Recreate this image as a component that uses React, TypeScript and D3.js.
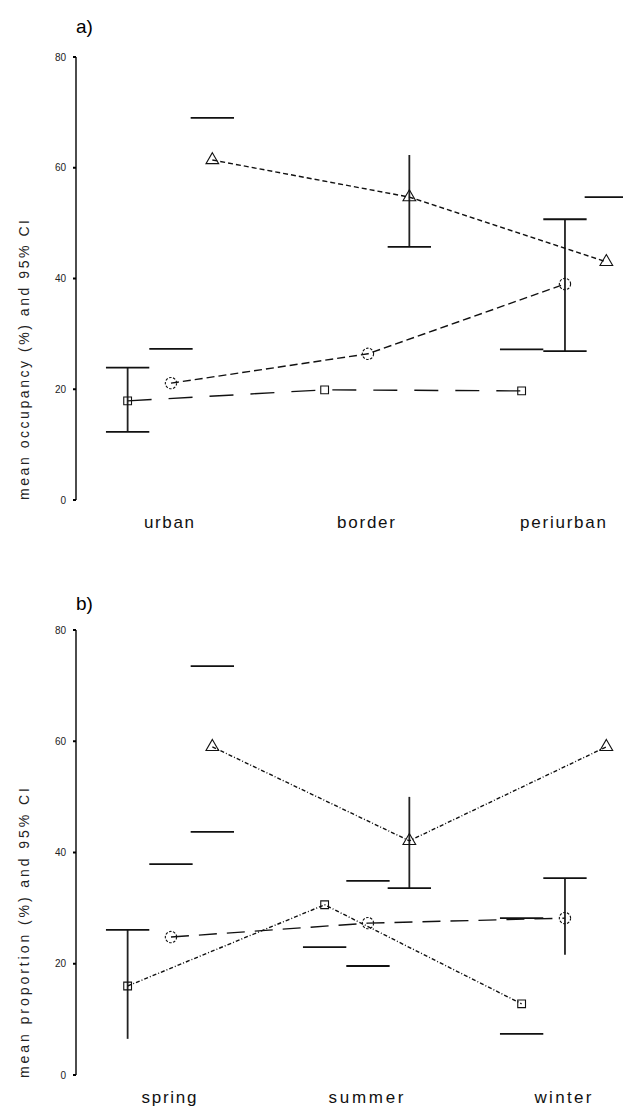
import { line, scaleLinear, symbol, symbolCircle, symbolSquare, symbolTriangle } from 'd3';

// categories and ticks
const OCCUPANCY_CATEGORIES = ['urban', 'border', 'periurban'];
const SEASON_CATEGORIES = ['spring', 'summer', 'winter'];
const Y_TICKS = [0, 20, 40, 60, 80];

// each series sits a little left / right of the category centre
const SERIES_OFFSETS = [-0.21, 0.01, 0.22];

// a) mean occupancy (%)
const occupancySquare = [17.9, 19.9, 19.7];
const occupancyCircle = [21.1, 26.4, 39.0];
const occupancyTriangle = [61.4, 54.7, 43.0];

// b) mean proportion (%)
const proportionSquare = [16.0, 30.6, 12.8];
const proportionCircle = [24.8, 27.3, 28.2];
const proportionTriangle = [59.0, 42.1, 59.0];

// 95% CI pieces that are visible: [series, category, value]
type Cap = [number, number, number];
// [series, category, low, high]
type Stem = [number, number, number, number];

const occupancyCaps: Cap[] = [
  [0, 0, 23.9], [0, 0, 12.3], [1, 0, 27.3], [2, 0, 69.0],
  [2, 1, 45.7],
  [1, 2, 50.7], [1, 2, 26.9], [0, 2, 27.2], [2, 2, 54.7],
];
const occupancyStems: Stem[] = [
  [0, 0, 12.3, 23.9],
  [2, 1, 45.7, 62.3],
  [1, 2, 26.9, 50.7],
];

const proportionCaps: Cap[] = [
  [0, 0, 26.1], [1, 0, 37.9], [2, 0, 43.7], [2, 0, 73.5],
  [2, 1, 33.6], [1, 1, 34.9], [1, 1, 19.6], [0, 1, 23.0],
  [1, 2, 35.4], [0, 2, 28.2], [0, 2, 7.4],
];
const proportionStems: Stem[] = [
  [0, 0, 6.5, 26.1],
  [2, 1, 33.6, 50.0],
  [1, 2, 21.6, 35.4],
];

const WIDTH = 623;
const HEIGHT = 1109;
const AXIS_X = 76;
const FONT = '"Liberation Sans", Arial, sans-serif';
const CAP_HALF = 0.11;
const SYMBOLS = [symbolSquare, symbolCircle, symbolTriangle];
const SYMBOL_SIZES = [60, 100, 70];

const xScale = scaleLinear().domain([0, 2]).range([169, 563]);

type PanelProps = {
  tag: string;
  tagY: number;
  top: number;
  bottom: number;
  categories: string[];
  series: number[][];
  caps: Cap[];
  stems: Stem[];
  dashes: string[];
  yLabel: string;
  yLabelLength: number;
  yLabelCenter: number;
  xLabelY: number;
  xLabelWidths: number[];
};

function Panel({
  tag,
  tagY,
  top,
  bottom,
  categories,
  series,
  caps,
  stems,
  dashes,
  yLabel,
  yLabelLength,
  yLabelCenter,
  xLabelY,
  xLabelWidths,
}: PanelProps) {
  const yScale = scaleLinear().domain([0, 80]).range([bottom, top]);
  const pos = (s: number, c: number) => xScale(c + SERIES_OFFSETS[s]);

  return (
    <g>
      <text x={AXIS_X} y={tagY} fontSize={19} fontFamily={FONT}>
        {tag}
      </text>

      {/* y axis */}
      <line x1={AXIS_X} x2={AXIS_X} y1={yScale(80)} y2={yScale(0)} stroke="#000" strokeWidth={1.4} />
      {Y_TICKS.map((tick) => (
        <g key={tick}>
          <line x1={AXIS_X - 3} x2={AXIS_X} y1={yScale(tick)} y2={yScale(tick)} stroke="#000" strokeWidth={2} />
          <text
            x={66}
            y={yScale(tick)}
            dy="0.35em"
            textAnchor="end"
            fontSize={10}
            fontFamily={FONT}
            fill="#222"
          >
            {tick}
          </text>
        </g>
      ))}
      <text
        transform={`translate(29 ${yLabelCenter}) rotate(-90)`}
        textAnchor="middle"
        fontSize={14}
        fontFamily={FONT}
        textLength={yLabelLength}
        lengthAdjust="spacing"
        fill="#222"
      >
        {yLabel}
      </text>

      {/* category labels */}
      {categories.map((cat, i) => (
        <text
          key={cat}
          x={xScale(i)}
          y={xLabelY}
          textAnchor="middle"
          fontSize={17}
          fontFamily={FONT}
          textLength={xLabelWidths[i]}
          lengthAdjust="spacing"
          fill="#111"
        >
          {cat}
        </text>
      ))}

      {/* CI stems and caps */}
      {stems.map(([s, c, lo, hi], i) => (
        <line
          key={`stem-${i}`}
          x1={pos(s, c)}
          x2={pos(s, c)}
          y1={yScale(lo)}
          y2={yScale(hi)}
          stroke="#222"
          strokeWidth={1.8}
        />
      ))}
      {caps.map(([s, c, v], i) => (
        <line
          key={`cap-${i}`}
          x1={xScale(c + SERIES_OFFSETS[s] - CAP_HALF)}
          x2={xScale(c + SERIES_OFFSETS[s] + CAP_HALF)}
          y1={yScale(v)}
          y2={yScale(v)}
          stroke="#111"
          strokeWidth={1.8}
        />
      ))}

      {/* series lines and markers */}
      {series.map((values, s) => {
        const path = line<number>()
          .x((_, c) => pos(s, c))
          .y((v) => yScale(v))(values);
        return (
          <g key={`series-${s}`}>
            <path d={path ?? ''} fill="none" stroke="#111" strokeWidth={1.4} strokeDasharray={dashes[s]} />
            {values.map((v, c) => (
              <path
                key={c}
                d={symbol(SYMBOLS[s], SYMBOL_SIZES[s])() ?? ''}
                transform={`translate(${pos(s, c)} ${yScale(v)})`}
                fill="none"
                stroke="#111"
                strokeWidth={1.1}
                strokeDasharray={s === 1 ? '2.5 1.5' : undefined}
              />
            ))}
          </g>
        );
      })}
    </g>
  );
}

export default function App() {
  return (
    <svg
      width={WIDTH}
      height={HEIGHT}
      viewBox={`0 0 ${WIDTH} ${HEIGHT}`}
      style={{ position: 'fixed', left: 0, top: 0, background: '#fff' }}
    >
      <rect width={WIDTH} height={HEIGHT} fill="#fff" />
      <Panel
        tag="a)"
        tagY={33}
        top={57}
        bottom={500}
        categories={OCCUPANCY_CATEGORIES}
        series={[occupancySquare, occupancyCircle, occupancyTriangle]}
        caps={occupancyCaps}
        stems={occupancyStems}
        dashes={['24 17', '8 4', '5 3']}
        yLabel="mean occupancy (%) and 95% CI"
        yLabelLength={280}
        yLabelCenter={360}
        xLabelY={528}
        xLabelWidths={[50, 58, 86]}
      />
      <Panel
        tag="b)"
        tagY={610}
        top={630}
        bottom={1075}
        categories={SEASON_CATEGORIES}
        series={[proportionSquare, proportionCircle, proportionTriangle]}
        caps={proportionCaps}
        stems={proportionStems}
        dashes={['4 2 1 2', '18 10', '4 2 1 2']}
        yLabel="mean proportion (%) and 95% CI"
        yLabelLength={290}
        yLabelCenter={933}
        xLabelY={1103}
        xLabelWidths={[55, 75, 57]}
      />
    </svg>
  );
}
